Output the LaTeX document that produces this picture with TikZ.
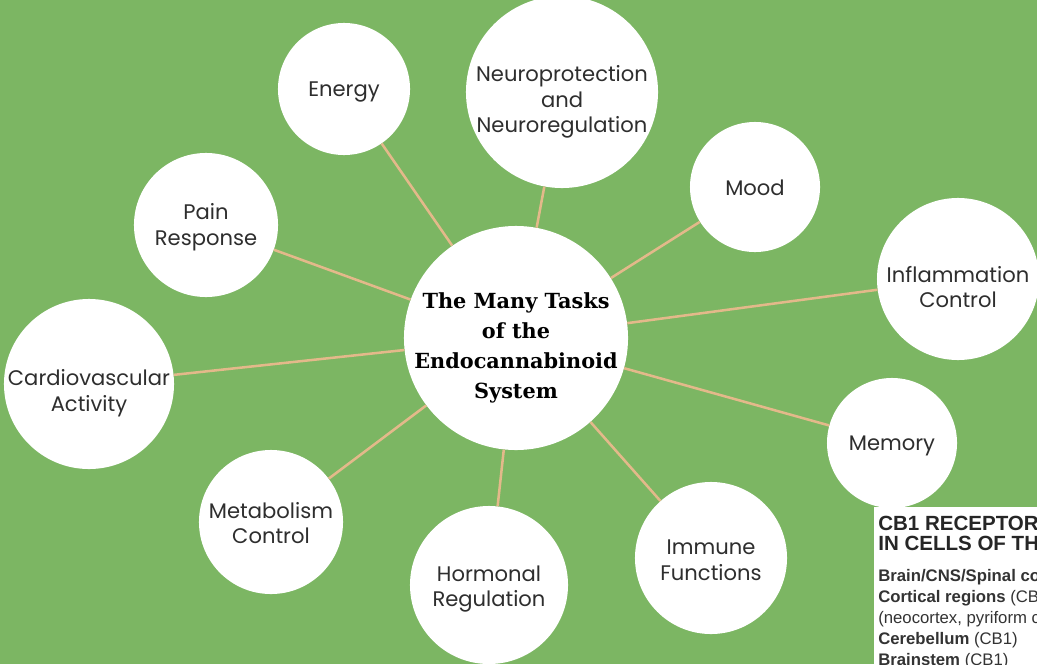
\documentclass[tikz,border=0pt]{standalone}
\usepackage{fontspec}
\setmainfont{Poppins}
\newfontfamily\slabfont{DejaVu Serif}
\newfontfamily\panelfont{Liberation Sans}
\usetikzlibrary{positioning}

\definecolor{fondo}{HTML}{7CB663}
\definecolor{enlace}{HTML}{E3B98A}
\definecolor{texto}{HTML}{2E2E2E}

\begin{document}
\begin{tikzpicture}[
    x=0.025cm, y=-0.025cm,
    bubble/.style={circle, fill=white, inner sep=0pt, minimum size=#1*0.05cm},
    tasktext/.style={align=center, inner sep=0pt, text=texto, font=\fontsize{15}{18.3}\selectfont},
    hubtext/.style={align=center, inner sep=0pt, text=black, font=\slabfont\bfseries\fontsize{14.8}{21.3}\selectfont},
    link/.style={draw=enlace, line width=1.8pt},
    paneltitle/.style={anchor=base west, inner sep=0pt, font=\panelfont\bfseries\fontsize{14.6}{16}\selectfont, text=black!85},
    paneltxt/.style={anchor=base west, inner sep=0pt, font=\panelfont\fontsize{11.9}{14}\selectfont, text=black!80}
  ]

  % Fondo
  \useasboundingbox (0,0) rectangle (1037,664);
  \clip (0,0) rectangle (1037,664);
  \fill[fondo] (0,0) rectangle (1037,664);

  % Recuadro de receptores CB1
  \fill[white] (874,507) rectangle (1037,664);
  \node[paneltitle] (cbtitleA) at (878,530) {CB1 RECEPTORS};
  \node[paneltitle] (cbtitleB) at (878,550) {IN CELLS OF THE};
  \node[paneltxt] (cbbrain) at (878,581) {\textbf{Brain/CNS/Spinal cord}};
  \node[paneltxt] (cbcortex) at (878,602) {\textbf{Cortical regions} (CB1)};
  \node[paneltxt] (cbneo) at (878,623) {(neocortex, pyriform cortex)};
  \node[paneltxt] (cbcereb) at (878,644) {\textbf{Cerebellum} (CB1)};
  \node[paneltxt] (cbstem) at (878,665) {\textbf{Brainstem} (CB1)};

  % Nodo central
  \node[bubble=112] (hub) at (516,338) {};
  \node[hubtext] (hubtitle) at (516,348) {The Many Tasks\\of the\\Endocannabinoid\\System};

  % Tareas alrededor: nombre/x/y/radio/desplazamiento del texto/etiqueta
  \foreach \n/\x/\y/\r/\s/\txt in {
      energy/344/89/66/3/{Energy},
      neuro/562/92/96/10/{Neuroprotection\\and\\Neuroregulation},
      mood/755/187/65/1/{Mood},
      inflam/958/279/81/8/{Inflammation\\Control},
      memory/892/443/65/3/{Memory},
      immune/711/558/76/2/{Immune\\Functions},
      hormonal/489/585/79/4/{Hormonal\\Regulation},
      metab/271/522/72/1/{Metabolism\\Control},
      cardio/89/384/85/9/{Cardiovascular\\Activity},
      pain/206/225/72/2/{Pain\\Response}} {
    \node[bubble=\r] (\n) at (\x,\y) {};
    \node[tasktext] (\n-txt) at (\x,\y+\s) {\txt};
  }

  % Enlaces
  \foreach \t in {energy, neuro, mood, inflam, memory, immune, hormonal, metab, cardio, pain}
    \draw[link] (hub) -- (\t);
\end{tikzpicture}
\end{document}
